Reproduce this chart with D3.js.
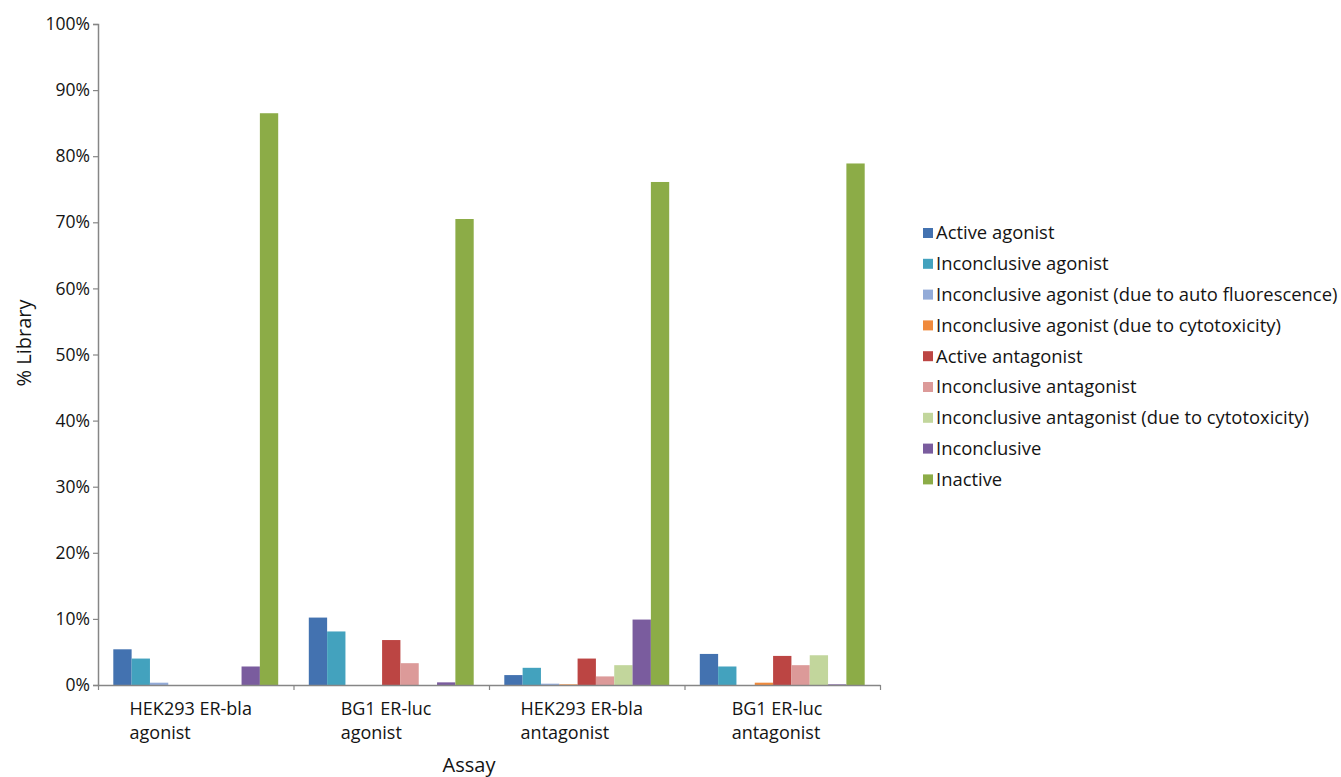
<!DOCTYPE html>
<html>
<head>
<meta charset="utf-8">
<script src="https://cdn.jsdelivr.net/npm/d3@7"></script>
<style>
  body { margin: 0; background: #fff; }
  svg { display: block; font-family: "Open Sans", sans-serif; }
</style>
</head>
<body>
<svg id="chart" width="1341" height="777"></svg>
<script>
// data (% of library)
const assays = ['HEK293 ER-bla agonist', 'BG1 ER-luc agonist', 'HEK293 ER-bla antagonist', 'BG1 ER-luc antagonist'];
const assayLines = [['HEK293 ER-bla', 'agonist'], ['BG1 ER-luc', 'agonist'], ['HEK293 ER-bla', 'antagonist'], ['BG1 ER-luc', 'antagonist']];

const seriesNames = [
    'Active agonist',
    'Inconclusive agonist',
    'Inconclusive agonist (due to auto fluorescence)',
    'Inconclusive agonist (due to cytotoxicity)',
    'Active antagonist',
    'Inconclusive antagonist',
    'Inconclusive antagonist (due to cytotoxicity)',
    'Inconclusive',
    'Inactive'
];
const seriesColors = ['#4372b0', '#43a2be', '#93abd8', '#f08a3c', '#bc4543', '#dc9a99', '#c2d69c', '#7a5c9e', '#8cac47'];

const activeAgonist = [5.4, 10.2, 1.5, 4.7];
const inconclusiveAgonist = [4.0, 8.1, 2.6, 2.8];
const inconclusiveAutoFluor = [0.35, 0, 0.2, 0];
const inconclusiveAgonistCyto = [0, 0, 0.1, 0.35];
const activeAntagonist = [0, 6.8, 4.0, 4.4];
const inconclusiveAntagonist = [0, 3.3, 1.3, 3.0];
const inconclusiveAntagonistCyto = [0, 0, 3.0, 4.5];
const inconclusive = [2.8, 0.4, 9.9, 0.1];
const inactive = [86.5, 70.5, 76.1, 78.9];

const seriesValues = [activeAgonist, inconclusiveAgonist, inconclusiveAutoFluor, inconclusiveAgonistCyto,
    activeAntagonist, inconclusiveAntagonist, inconclusiveAntagonistCyto, inconclusive, inactive];

const yTicks = [0, 10, 20, 30, 40, 50, 60, 70, 80, 90, 100];

// layout
const svg = d3.select('#chart');
const plotLeft = 98, plotRight = 880, plotTop = 24, plotBottom = 685;
const axisColor = '#868686';
const textColor = '#141414';

const x0 = d3.scaleBand().domain(assays).range([plotLeft, plotRight]).paddingInner(0).paddingOuter(0);
const x1 = d3.scaleBand().domain(seriesNames).range([15.3, x0.bandwidth() - 15.3]).padding(0);
const y = d3.scaleLinear().domain([0, 100]).range([plotBottom, plotTop]);

// bars
const groups = svg.append('g').selectAll('g')
    .data(assays)
    .enter()
    .append('g')
    .attr('transform', d => `translate(${x0(d)},0)`);

groups.selectAll('rect')
    .data((d, i) => seriesNames.map((s, k) => ({ s, k, v: seriesValues[k][i] })))
    .enter()
    .append('rect')
    .attr('x', d => x1(d.s))
    .attr('y', d => y(d.v))
    .attr('width', x1.bandwidth())
    .attr('height', d => plotBottom - y(d.v))
    .attr('fill', d => seriesColors[d.k]);

// y axis
const yAxis = svg.append('g')
    .attr('transform', `translate(${plotLeft},0)`)
    .call(d3.axisLeft(y).tickValues(yTicks).tickSize(5).tickPadding(3).tickFormat(d => d + '%'));
yAxis.select('.domain').attr('stroke', axisColor).attr('stroke-width', 1.5);
yAxis.selectAll('.tick line').attr('stroke', axisColor).attr('stroke-width', 1.2);
yAxis.selectAll('.tick text').attr('fill', textColor).style('font-size', '17.5px').style('font-family', '"Open Sans", sans-serif');

// x axis: ticks at category boundaries
const xb = d3.scaleLinear().domain([0, assays.length]).range([plotLeft, plotRight]);
const xAxis = svg.append('g')
    .attr('transform', `translate(0,${plotBottom})`)
    .call(d3.axisBottom(xb).tickValues(d3.range(assays.length + 1)).tickSize(5).tickSizeOuter(0).tickFormat(''));
xAxis.select('.domain').attr('stroke', axisColor).attr('stroke-width', 1.5);
xAxis.selectAll('.tick line').attr('stroke', axisColor).attr('stroke-width', 1.2);

// category labels, two lines, left aligned block roughly centred under each group
const labels = svg.append('g');
assays.forEach((a, i) => {
    const t = labels.append('text')
        .attr('fill', textColor)
        .style('font-size', '18px');
    assayLines[i].forEach((line, j) => {
        t.append('tspan').attr('x', 0).attr('y', 715 + j * 23.5).text(line);
    });
    const w = t.node().getBBox().width;
    const lx = x0(a) + x0.bandwidth() / 2 - w / 2 - 5;
    t.selectAll('tspan').attr('x', lx);
});

// axis titles
svg.append('text')
    .attr('x', 469).attr('y', 772)
    .attr('text-anchor', 'middle')
    .attr('fill', textColor)
    .style('font-size', '20px')
    .text('Assay');

svg.append('text')
    .attr('transform', 'translate(31,343) rotate(-90)')
    .attr('text-anchor', 'middle')
    .attr('fill', textColor)
    .style('font-size', '20px')
    .text('% Library');

// legend
const legend = svg.append('g').attr('transform', 'translate(923,233)');
const rows = legend.selectAll('g')
    .data(seriesNames)
    .enter()
    .append('g')
    .attr('transform', (d, i) => `translate(0,${i * 30.8})`);
rows.append('rect')
    .attr('x', 0).attr('y', -5)
    .attr('width', 10).attr('height', 10)
    .attr('fill', (d, i) => seriesColors[i]);
rows.append('text')
    .attr('x', 13).attr('y', 0)
    .attr('dy', '0.35em')
    .attr('fill', textColor)
    .style('font-size', '18.4px')
    .text(d => d);
</script>
</body>
</html>
